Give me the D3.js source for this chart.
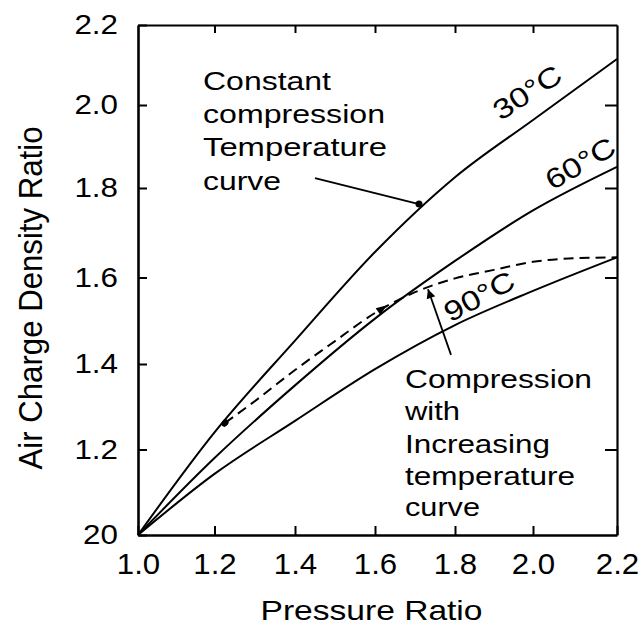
<!DOCTYPE html>
<html><head><meta charset="utf-8">
<script src="https://cdn.jsdelivr.net/npm/d3@7"></script>
<style>
body{margin:0;background:#fff}
text{font-family:"Liberation Sans",Arial,Helvetica,sans-serif;fill:#000}
</style></head>
<body><svg id="c" width="643" height="626"></svg>
<script>
// ---- data ----
const xTicks = [1.0, 1.2, 1.4, 1.6, 1.8, 2.0, 2.2];
const xTickLabels = ["1.0", "1.2", "1.4", "1.6", "1.8", "2.0", "2.2"];
const yTicks = [1.0, 1.2, 1.4, 1.6, 1.8, 2.0, 2.2];
const yTickLabels = ["20", "1.2", "1.4", "1.6", "1.8", "2.0", "2.2"];
const pressure = [1.0, 1.2, 1.4, 1.6, 1.8, 2.0, 2.2];
const density30 = [1.0, 1.24, 1.454, 1.657, 1.826, 1.964, 2.115];
const density60 = [1.0, 1.18, 1.35, 1.505, 1.637, 1.75, 1.851];
const density90 = [1.0, 1.143, 1.267, 1.388, 1.49, 1.569, 1.645];
const risingPressure = [1.226, 1.3, 1.4, 1.5, 1.6, 1.7, 1.8, 1.9, 2.0, 2.1, 2.2];
const risingDensity = [1.262, 1.313, 1.386, 1.453, 1.518, 1.566, 1.598, 1.617, 1.635, 1.643, 1.645];
const curveLabels = ["30°C", "60°C", "90°C"];
const constLeader = [[1.45, 1.824], [1.71, 1.764]];
const riseLeader = [[1.79, 1.421], [1.7325, 1.573]];
const riseArrow = [1.63, 1.536];
const constNote = ["Constant", "compression", "Temperature", "curve"];
const riseNote = ["Compression", "with", "Increasing", "temperature", "curve"];

// ---- layout ----
const svg = d3.select("#c");
const x = d3.scaleLinear().domain(xTicks).range([138, 214.5, 295, 375, 455, 533, 617]);
const y = d3.scaleLinear().domain(yTicks).range([535, 449.5, 364, 277.5, 188, 105, 25]);
const FONT = '"Liberation Sans",Arial,Helvetica,sans-serif';

function stretch(sel, k) {
  sel.each(function () {
    const w = this.getComputedTextLength();
    d3.select(this).attr("textLength", w * k).attr("lengthAdjust", "spacingAndGlyphs");
  });
}
function fitWidth(sel, w) {
  sel.attr("textLength", w).attr("lengthAdjust", "spacingAndGlyphs");
}

// axes
const gL = svg.append("g").attr("transform", `translate(${x(1.0)},0)`)
  .call(d3.axisLeft(y).tickValues(yTicks).tickFormat((d, i) => yTickLabels[i])
    .tickSizeInner(-9).tickSizeOuter(0).tickPadding(20));
gL.attr("font-size", 28).attr("font-family", FONT);
gL.select(".domain").attr("stroke-width", 2.6);
gL.selectAll(".tick line").attr("stroke-width", 2);
stretch(gL.selectAll("text"), 1.12);

const gB = svg.append("g").attr("transform", `translate(0,${y(1.0)})`)
  .call(d3.axisBottom(x).tickValues(xTicks).tickFormat((d, i) => xTickLabels[i])
    .tickSizeInner(-9).tickSizeOuter(0).tickPadding(18));
gB.attr("font-size", 30).attr("font-family", FONT);
gB.select(".domain").attr("stroke-width", 2.6);
gB.selectAll(".tick line").attr("stroke-width", 2);
stretch(gB.selectAll("text"), 1.04);

const gT = svg.append("g").attr("transform", `translate(0,${y(2.2)})`)
  .call(d3.axisTop(x).tickValues(xTicks.slice(1, 6)).tickFormat("")
    .tickSizeInner(-8).tickSizeOuter(0));
gT.select(".domain").attr("stroke-width", 2);
gT.selectAll(".tick line").attr("stroke-width", 2);

const gR = svg.append("g").attr("transform", `translate(${x(2.2)},0)`)
  .call(d3.axisRight(y).tickValues([1.2, 1.6, 1.8, 2.0]).tickFormat("")
    .tickSizeInner(-12).tickSizeOuter(0));
gR.select(".domain").attr("stroke-width", 2.2);
gR.selectAll(".tick line").attr("stroke-width", 2);

// axis titles
const xt = svg.append("text").attr("x", 371.5).attr("y", 620).attr("text-anchor", "middle")
  .attr("font-size", 28).text("Pressure Ratio");
fitWidth(xt, 222);
const yt = svg.append("text").attr("transform", "translate(42,298) rotate(-90)")
  .attr("text-anchor", "middle").attr("font-size", 33).text("Air Charge Density Ratio");
fitWidth(yt, 343);

// curves
const line = d3.line().x(d => x(d[0])).y(d => y(d[1])).curve(d3.curveMonotoneX);
[density30, density60, density90].forEach(arr => {
  svg.append("path").datum(pressure.map((p, i) => [p, arr[i]]))
    .attr("d", line).attr("fill", "none").attr("stroke", "#000").attr("stroke-width", 2);
});
svg.append("path").datum(risingPressure.map((p, i) => [p, risingDensity[i]]))
  .attr("d", line).attr("fill", "none").attr("stroke", "#000").attr("stroke-width", 2)
  .attr("stroke-dasharray", "10,6");

// start blob of dashed curve
svg.append("ellipse").attr("cx", x(risingPressure[0])).attr("cy", y(risingDensity[0]))
  .attr("rx", 3.2).attr("ry", 4).attr("fill", "#000")
  .attr("transform", `rotate(40,${x(risingPressure[0])},${y(risingDensity[0])})`);

// arrowhead helper
function arrowHead(tip, from, len, hw) {
  const dx = tip[0] - from[0], dy = tip[1] - from[1];
  const L = Math.hypot(dx, dy), ux = dx / L, uy = dy / L;
  const bx = tip[0] - ux * len, by = tip[1] - uy * len;
  svg.append("path")
    .attr("d", `M${tip[0]},${tip[1]}L${bx - uy * hw},${by + ux * hw}L${bx + uy * hw},${by - ux * hw}Z`)
    .attr("fill", "#000");
}
// arrow on dashed curve where it meets 60°C
arrowHead([x(riseArrow[0]), y(riseArrow[1])], [x(1.5), y(1.453)], 11, 4);

// leader: constant temperature
svg.append("line").attr("x1", x(constLeader[0][0])).attr("y1", y(constLeader[0][1]))
  .attr("x2", x(constLeader[1][0])).attr("y2", y(constLeader[1][1]))
  .attr("stroke", "#000").attr("stroke-width", 1.8);
svg.append("circle").attr("cx", x(constLeader[1][0])).attr("cy", y(constLeader[1][1]))
  .attr("r", 3.5).attr("fill", "#000");

// leader: increasing temperature
svg.append("line").attr("x1", x(riseLeader[0][0])).attr("y1", y(riseLeader[0][1]))
  .attr("x2", x(riseLeader[1][0])).attr("y2", y(riseLeader[1][1]))
  .attr("stroke", "#000").attr("stroke-width", 1.8);
arrowHead([x(riseLeader[1][0]), y(riseLeader[1][1])], [x(riseLeader[0][0]), y(riseLeader[0][1])], 9, 4.5);

// curve labels
const labelPos = [[527, 92, -33], [580, 163, -30], [479, 296, -28]];
curveLabels.forEach((t, i) => {
  const [lx, ly, a] = labelPos[i];
  const tx = svg.append("text").attr("transform", `translate(${lx},${ly}) rotate(${a})`)
    .attr("text-anchor", "middle").attr("dy", "0.36em").attr("font-size", 28).text(t);
  fitWidth(tx, 76);
});

// annotation notes
const constLayout = [[90, 128], [123, 182], [156, 184], [190, 78]];
constNote.forEach((t, i) => {
  const tx = svg.append("text").attr("x", 203).attr("y", constLayout[i][0])
    .attr("font-size", 26).text(t);
  fitWidth(tx, constLayout[i][1]);
});
const riseLayout = [[388, 187], [420, 55], [453, 145], [485, 170], [516, 75]];
riseNote.forEach((t, i) => {
  const tx = svg.append("text").attr("x", 405).attr("y", riseLayout[i][0])
    .attr("font-size", 26).text(t);
  fitWidth(tx, riseLayout[i][1]);
});
</script></body></html>
